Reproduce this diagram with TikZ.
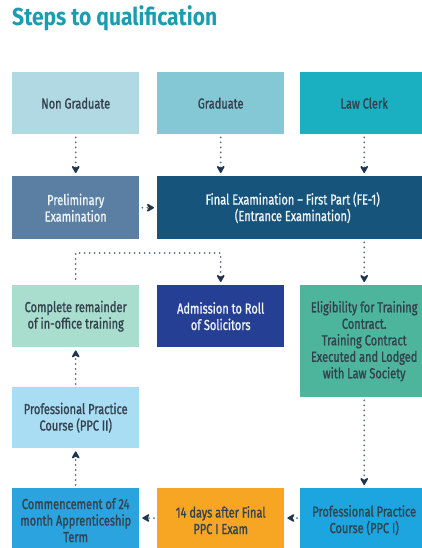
\documentclass[tikz,border=0pt]{standalone}
\usepackage{fontspec}
\setmainfont{Fira Sans}[FakeStretch=0.76, FakeBold=1.2]
\newfontfamily\titlefont{Fira Sans}[FakeStretch=0.86]
\usetikzlibrary{arrows.meta}
\definecolor{titleteal}{HTML}{1B9DB0}
\definecolor{darktext}{HTML}{34424E}
\definecolor{lighttext}{HTML}{EEF3F6}
\definecolor{dotcol}{HTML}{5C6F82}
\definecolor{tipcol}{HTML}{1E3550}
\definecolor{cNonGrad}{HTML}{B0D9E4}
\definecolor{cGrad}{HTML}{84C8D5}
\definecolor{cClerk}{HTML}{1AB0C1}
\definecolor{cPrelim}{HTML}{5A7FA3}
\definecolor{cFinal}{HTML}{17547B}
\definecolor{cRemain}{HTML}{A9DDCE}
\definecolor{cAdmit}{HTML}{243F93}
\definecolor{cElig}{HTML}{4DB59C}
\definecolor{cPPCii}{HTML}{A9DDF3}
\definecolor{cStart}{HTML}{2AA3DF}
\definecolor{cWait}{HTML}{F6A623}
\definecolor{cPPCi}{HTML}{1CA5DE}
\tikzset{
  box/.style={anchor=north west, inner sep=2pt, align=center,
    font=\fontsize{14.5}{16.5}\selectfont, text=darktext},
  darkbox/.style={box, text=lighttext},
  flow/.style={dotcol, line width=2pt, line cap=round,
    dash pattern=on 0pt off 5pt,
    -{Stealth[length=9pt, width=10pt, inset=3pt, tipcol, line cap=butt, round=false]},
    shorten <=3pt, shorten >=3pt}
}
\begin{document}
\begin{tikzpicture}[x=1pt, y=-1pt]
  \useasboundingbox (0,0) rectangle (422,548);
  \fill[white] (0,0) rectangle (422,548);

  % heading
  \node[anchor=base west, inner sep=0pt, text=titleteal,
        font=\titlefont\bfseries\fontsize{24.5}{27}\selectfont] (title) at (12,26) {Steps to qualification};

  % entry routes
  \node[box, fill=cNonGrad, minimum width=127pt, minimum height=62pt] (ng) at (12,72) {Non Graduate};
  \node[box, fill=cGrad, minimum width=127pt, minimum height=62pt] (gr) at (157,72) {Graduate};
  \node[box, fill=cClerk, minimum width=128pt, minimum height=62pt] (lc) at (300,72) {Law Clerk};

  % examinations
  \node[darkbox, fill=cPrelim, minimum width=127pt, minimum height=63pt] (pe) at (12,176) {Preliminary\\Examination};
  \node[darkbox, fill=cFinal, minimum width=271pt, minimum height=63pt] (fe) at (157,176) {};
  \node[darkbox, anchor=center] (fetext) at (fe.center) {Final Examination -- First Part (FE-1)\\(Entrance Examination)};

  % training and admission
  \node[box, fill=cRemain, minimum width=127pt, minimum height=62pt] (cr) at (12,285) {Complete remainder\\of in-office training};
  \node[darkbox, fill=cAdmit, minimum width=127pt, minimum height=62pt] (ad) at (157,285) {Admission to Roll\\of Solicitors};
  \node[box, fill=cElig, minimum width=128pt, minimum height=112pt] (el) at (300,285) {Eligibility for Training\\Contract.\\Training Contract\\Executed and Lodged\\with Law Society};

  \node[box, fill=cPPCii, minimum width=127pt, minimum height=61pt] (p2) at (12,387) {Professional Practice\\Course (PPC II)};

  \node[box, fill=cStart, minimum width=127pt, minimum height=64pt] (cm) at (12,488) {Commencement of 24\\month Apprenticeship\\Term};
  \node[box, fill=cWait, minimum width=127pt, minimum height=64pt] (fd) at (157,488) {14 days after Final\\PPC I Exam};
  \node[box, fill=cPPCi, minimum width=128pt, minimum height=64pt] (p1) at (300,488) {Professional Practice\\Course (PPC I)};

  % routing levels
  \coordinate (split) at (0,253);
  \coordinate (lowrow) at (0,518);

  % connectors
  \draw[flow] (ng.south) -- (ng.south |- pe.north);
  \draw[flow] (gr.south) -- (gr.south |- fe.north);
  \draw[flow] (lc.south) -- (lc.south |- fe.north);
  \draw[flow] (pe.east) -- (pe.east -| fe.west);
  \draw[flow] (fe.south -| lc.south) -- (lc.south |- el.north);
  \draw[flow, shorten <=6pt] (cr.north) -- (cr.north |- split) -- (ad.north |- split) -- (ad.north);
  \draw[flow] (p2.north) -- (cr.south);
  \draw[flow] (el.south) -- (el.south |- p1.north);
  \draw[flow] (p1.west |- lowrow) -- (fd.east |- lowrow);
  \draw[flow] (fd.west |- lowrow) -- (cm.east |- lowrow);
  \draw[flow] (cm.north) -- (p2.south);
\end{tikzpicture}
\end{document}
